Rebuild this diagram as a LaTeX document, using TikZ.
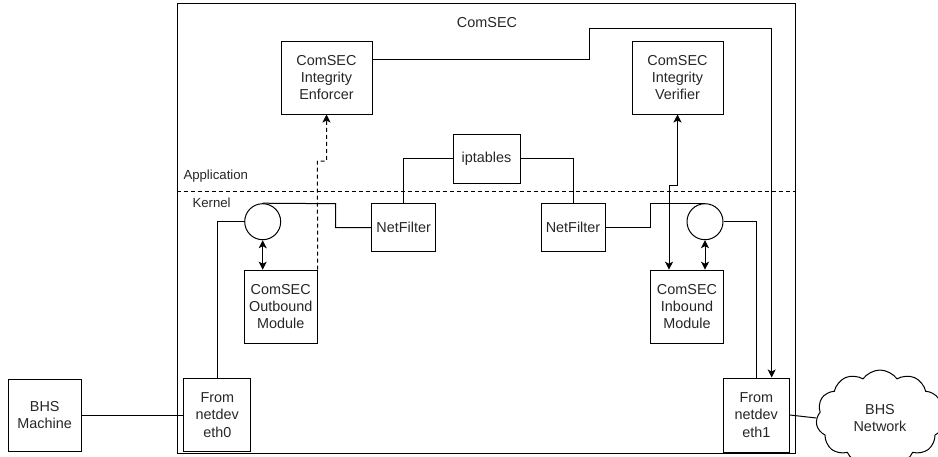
\documentclass[tikz,border=0pt]{standalone}
\usepackage{fontspec}
\setmainfont{Liberation Sans}
\usetikzlibrary{arrows.meta,shapes.symbols}
\newcommand\boxfont{\fontsize{14.4}{17.3}\selectfont}
\newcommand\layerfont{\fontsize{13.2}{15.8}\selectfont}

\begin{document}
\begin{tikzpicture}[x=1pt, y=-1pt, line width=1pt,
    box/.style={draw, inner sep=0pt, align=center, font=\boxfont, text=black!85},
    lbl/.style={inner sep=0pt, anchor=west, font=\layerfont, text=black!85},
    hook/.style={draw, circle, minimum size=36pt, inner sep=0pt},
    arr/.style={-{Stealth[length=8pt, width=8pt, inset=2pt]}},
    dbl/.style={{Stealth[length=8pt, width=8pt, inset=2pt]}-{Stealth[length=8pt, width=8pt, inset=2pt]}},
    sep/.style={dash pattern=on 4pt off 3pt}]
  \useasboundingbox (0,0) rectangle (938,456);
  % Outer ComSEC box
  \node[draw, minimum width=618pt, minimum height=450pt, inner sep=0pt] (comsec) at (486,228) {};
  \node[font=\boxfont, text=black!85] (title) at (487,23) {ComSEC};
  % Layers
  \draw[sep] (comsec.west |- 0,191.5) -- (comsec.east |- 0,191.5);
  \node[lbl] (app) at (183,176) {Application};
  \node[lbl] (kern) at (192,203) {Kernel};
  % Application
  \node[box, minimum width=91pt, minimum height=73pt] (enf) at (326.5,77.5) {ComSEC\\Integrity\\Enforcer};
  \node[box, minimum width=91pt, minimum height=73pt] (ver) at (677.5,77.5) {ComSEC\\Integrity\\Verifier};
  \node[box, minimum width=67pt, minimum height=49pt] (ipt) at (486.5,158.5) {iptables};
  % Kernel
  \node[hook] (hl) at (262.7,221.7) {};
  \node[hook] (hr) at (705,221.7) {};
  \node[box, minimum width=64pt, minimum height=48pt] (nfl) at (403.7,227.5) {NetFilter};
  \node[box, minimum width=64pt, minimum height=48pt] (nfr) at (573,227.5) {NetFilter};
  \node[box, minimum width=73pt, minimum height=73pt] (outb) at (280.7,306.7) {ComSEC\\Outbound\\Module};
  \node[box, minimum width=73pt, minimum height=73pt] (inb) at (687,306.7) {ComSEC\\Inbound\\Module};
  \node[box, minimum width=67pt, minimum height=73pt] (eth0) at (217.3,415) {From\\netdev\\eth0};
  \node[box, minimum width=66pt, minimum height=74pt] (eth1) at (756.3,415) {From\\netdev\\eth1};
  % Outside
  \node[box, minimum width=73pt, minimum height=72pt] (bhs) at (44.7,415) {BHS\\Machine};
  \node[box, cloud, cloud puffs=11, cloud puff arc=110, aspect=1.4,
        minimum width=128pt, minimum height=96pt] (net) at (880,418) {BHS\\Network};

  \draw[arr] ([yshift=18pt]enf.east) -| (589,28) -| ([xshift=15.4pt]eth1.north);
  \draw[arr, sep] (outb.north east) -- (317.3,161) -| (enf.south);
  \draw[dbl] (hl.south) -- (hl.south |- outb.north);
  \draw (eth0.north) |- (hl.west);
  \draw (hl.north) -- (335.7,203.7) |- (nfl.west);
  \draw (nfl.north) |- (ipt.west);
  \draw (ipt.east) -| (nfr.north);
  \draw (nfr.east) -- (nfr.east -| inb.west) |- (hr.north);
  \draw (hr.east) -| (eth1.north);
  \draw[dbl] (ver.south) -- (677.5,185) -| ([xshift=-18pt]inb.north);
  \draw[dbl] (hr.south) -- (hr.south |- inb.north);
  \draw (bhs.east) -- (eth0.west);
  \draw (eth1.east) -- (net.west);
\end{tikzpicture}
\end{document}
